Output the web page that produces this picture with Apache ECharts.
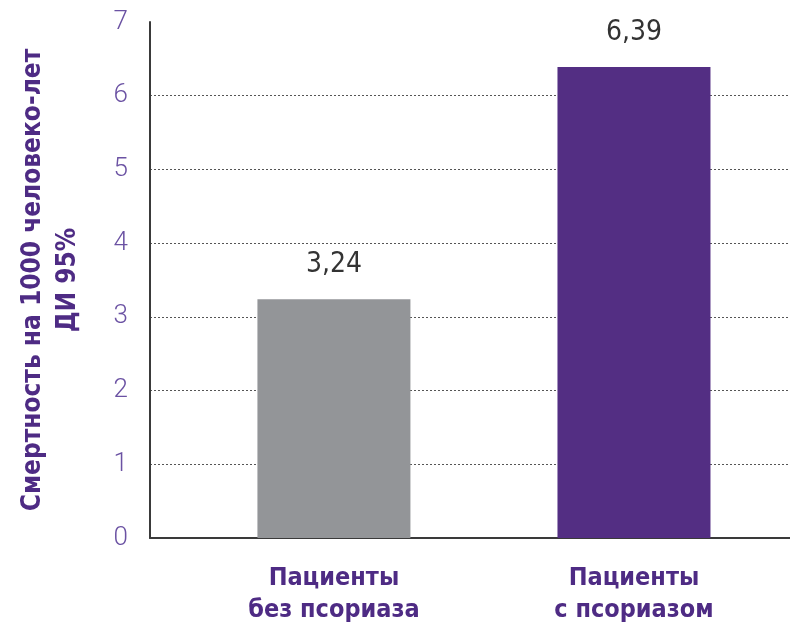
<!DOCTYPE html>
<html>
<head>
<meta charset="utf-8">
<script src="https://cdn.jsdelivr.net/npm/echarts@6/dist/echarts.min.js"></script>
<style>
  html, body { margin: 0; padding: 0; background: #fff; }
  #chart { width: 790px; height: 629px; }
</style>
</head>
<body>
<div id="chart"></div>
<script>
var categories = ['Пациенты\nбез псориаза', 'Пациенты\nс псориазом'];
var values = [3.24, 6.39];
var barColors = ['#939598', '#532e83'];
var yTicks = [0, 1, 2, 3, 4, 5, 6, 7];
var yName = 'Смертность на 1000 человеко-лет\nДИ 95%';

var purple = '#4e2b84';
var narrow = '"Liberation Sans Narrow", "DejaVu Sans Condensed", sans-serif';

var chart = echarts.init(document.getElementById('chart'), null, { renderer: 'canvas' });
chart.setOption({
  animation: false,
  grid: { left: 150, right: 0, top: 22, bottom: 91 },
  xAxis: {
    type: 'value',
    min: -0.613,
    max: 1.52,
    splitLine: { show: false },
    axisTick: { show: false },
    axisLine: { show: true, onZero: false, lineStyle: { color: '#3a3a3a', width: 2 } },
    axisLabel: {
      customValues: [0, 1],
      formatter: function (v) { return categories[Math.round(v)]; },
      color: purple,
      fontFamily: narrow,
      fontWeight: 'bold',
      fontSize: 25,
      lineHeight: 32,
      margin: 24
    }
  },
  yAxis: {
    type: 'value',
    min: yTicks[0],
    max: yTicks[yTicks.length - 1],
    interval: 1,
    name: yName,
    nameLocation: 'middle',
    nameRotate: 90,
    nameGap: 64,
    nameTextStyle: {
      color: purple,
      fontFamily: narrow,
      fontWeight: 'bold',
      fontSize: 26,
      lineHeight: 35
    },
    axisLine: { show: true, onZero: false, lineStyle: { color: '#3a3a3a', width: 2 } },
    axisTick: { show: false },
    axisLabel: {
      color: '#6b52a3',
      fontFamily: 'Roboto, "Liberation Sans", sans-serif',
      fontWeight: 300,
      fontSize: 26,
      margin: 22
    },
    splitLine: {
      show: true,
      showMinLine: false,
      showMaxLine: false,
      lineStyle: { color: '#555', type: [2, 2], width: 1 }
    }
  },
  series: [{
    type: 'bar',
    barWidth: 153,
    data: values.map(function (v, i) {
      return { value: [i, v], itemStyle: { color: barColors[i] } };
    }),
    label: {
      show: true,
      position: 'top',
      distance: 20,
      color: '#333',
      fontFamily: narrow,
      fontSize: 28,
      formatter: function (p) { return String(p.value[1]).replace('.', ','); }
    }
  }]
});
</script>
</body>
</html>
